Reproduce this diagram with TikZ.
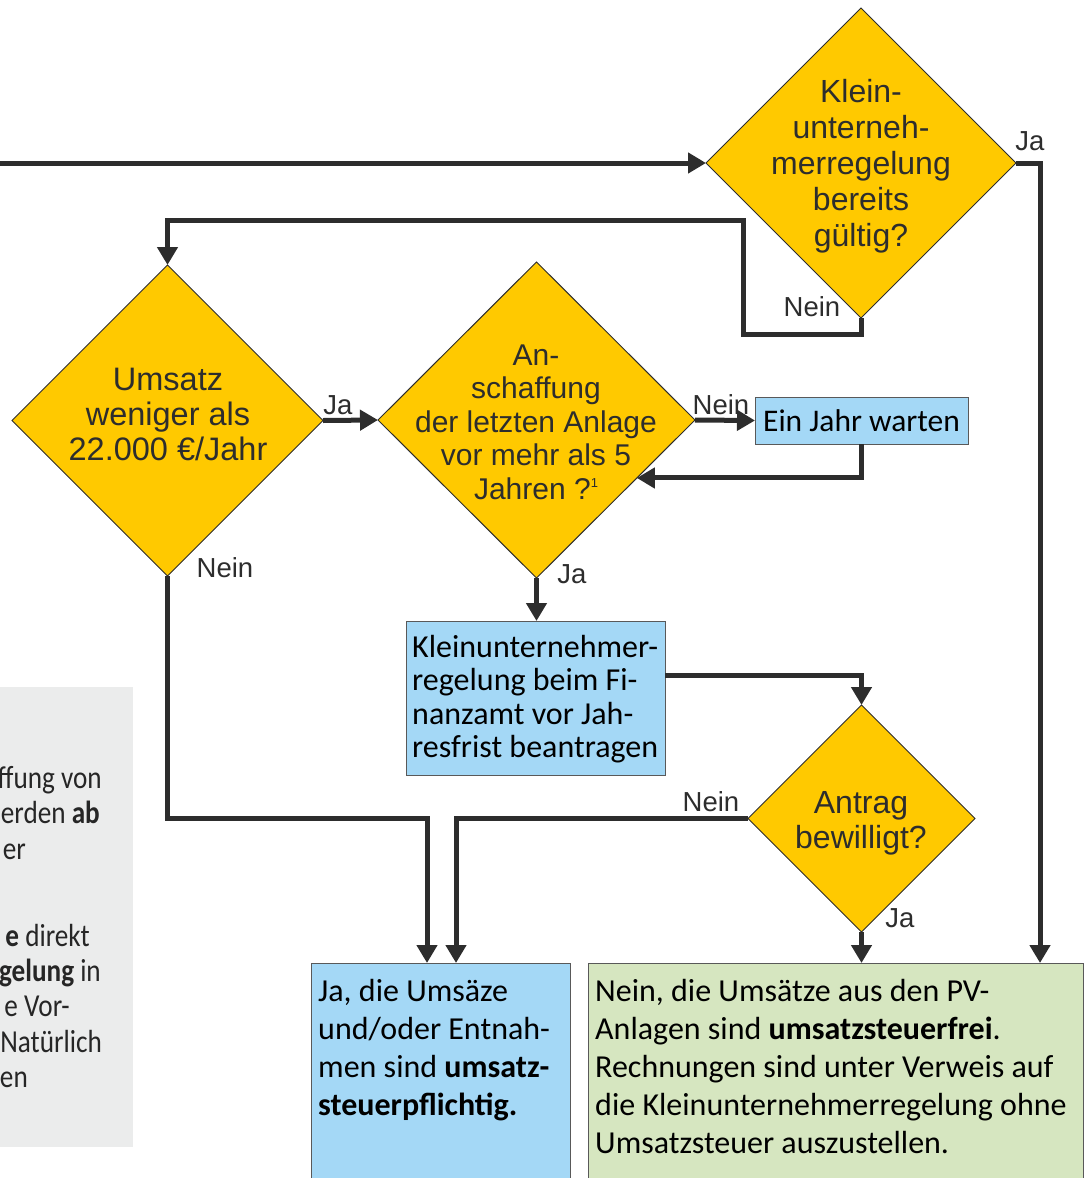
\documentclass[tikz,border=0pt]{standalone}
\usepackage{fontspec}
\setmainfont{Liberation Sans}
\newfontfamily\gill{Carlito}
\newfontfamily\gillc[FakeStretch=0.85]{Carlito}
\usetikzlibrary{shapes.geometric,arrows.meta,calc}
\definecolor{dyellow}{RGB}{255,201,0}
\definecolor{lblue}{RGB}{164,216,246}
\definecolor{lgreen}{RGB}{214,230,192}
\definecolor{lgray}{RGB}{235,236,236}
\definecolor{lineC}{RGB}{45,45,45}
\definecolor{txt}{RGB}{45,45,45}
\begin{document}
\begin{tikzpicture}[x=1pt,y=-1pt,
 dia/.style={diamond, aspect=1, fill=dyellow, draw=lineC, line width=1pt, inner sep=0pt, outer sep=0pt},
 diatext/.style={align=center, text=txt, inner sep=0pt, font=\fontsize{32}{36}\selectfont},
 box/.style={rectangle, draw=black!65, line width=1pt, inner sep=0pt, outer sep=0pt, anchor=north west},
 boxtext/.style={align=left, anchor=north west, inner sep=0pt, font=\gill\fontsize{32}{38}\selectfont},
 gtext/.style={anchor=base east, inner sep=0pt, text=black!85, font=\gillc\fontsize{32}{38}\selectfont},
 lab/.style={font=\fontsize{27.5}{30}\selectfont, text=txt, inner sep=0pt},
 arr/.style={draw=lineC, line width=5pt, -{Triangle[length=18pt,width=20pt]}, line join=miter}
]
\useasboundingbox (0,0) rectangle (1089,1178);
\clip (0,0) rectangle (1089,1178);
% side note box
\fill[lgray] (-10,687) rectangle (133,1147);
\node[gtext] (g1) at (102,788) {ffung von};
\node[gtext] (g2) at (100,823) {erden \textbf{ab}};
\node[gtext] (g3) at (26,859) {er};
\node[gtext] (g4) at (90,946) {\textbf{e} direkt};
\node[gtext] (g5) at (101,981) {\textbf{gelung} in};
\node[gtext] (g6) at (70,1016) {e Vor-};
\node[gtext] (g7) at (102,1052) {Natürlich};
\node[gtext] (g8) at (28,1087) {en};
% diamonds
\node[dia, minimum width=310pt, minimum height=310pt] (d1) at (861,163) {};
\node[diatext] (t1) at (861,166) {Klein-\\unterneh-\\merregelung\\bereits\\gültig?};
\node[dia, minimum width=311pt, minimum height=311pt] (d2) at (167.5,420.5) {};
\node[diatext, font=\fontsize{32.5}{35}\selectfont] (t2) at (168,414) {Umsatz\\weniger als\\22.000 €/Jahr};
\node[dia, minimum width=317pt, minimum height=316pt] (d3) at (536.5,420) {};
\node[diatext, font=\fontsize{30}{33.5}\selectfont] (t3) at (536,422) {An-\\schaffung\\der letzten Anlage\\vor mehr als 5\\Jahren ?\raisebox{12pt}{\fontsize{13}{13}\selectfont 1}};
\node[dia, minimum width=227pt, minimum height=227pt] (d4) at (861.5,818.5) {};
\node[diatext, font=\fontsize{32}{35}\selectfont] (t4) at (861,823) {Antrag\\bewilligt?};
% boxes
\node[box, fill=lblue, minimum width=213pt, minimum height=47pt, font=\gill\fontsize{31.5}{38}\selectfont] (wait) at (755,397) {Ein Jahr warten};
\node[box, fill=lblue, minimum width=259pt, minimum height=154pt] (antr) at (406,621) {};
\node[boxtext, font=\gill\fontsize{32}{33.3}\selectfont] (antrt) at (412,635) {Kleinunternehmer-\\regelung beim Fi-\\nanzamt vor Jah-\\resfrist beantragen};
\node[box, fill=lblue, minimum width=259pt, minimum height=260pt] (yes) at (311,963) {};
\node[boxtext] (yest) at (318,979) {Ja, die Umsäze\\und/oder Entnah-\\men sind \textbf{umsatz-}\\\textbf{steuerpflichtig.}};
\node[box, fill=lgreen, minimum width=495pt, minimum height=260pt] (no) at (588,963) {};
\node[boxtext] (not) at (595,979) {Nein, die Umsätze aus den PV-\\Anlagen sind \textbf{umsatzsteuerfrei}.\\Rechnungen sind unter Verweis auf\\die Kleinunternehmerregelung ohne\\Umsatzsteuer auszustellen.};
% connectors
\coordinate (in) at (-10,163);
\draw[arr] (in) -- (d1.west);
\draw[arr] (d1.east) -| ($(no.north east)+(-43,0)$);
\draw[arr] (d1.south) -- ++(0,16) -| ($(d1.south)+(-118,-98)$) -| (d2.north);
\draw[arr] (d2.east) -- (d3.west);
\draw[arr] (d3.east) -- (wait.west);
\draw[arr] (wait.south) |- ($(d3.east)!0.367!(d3.south)$);
\draw[arr] (d3.south) -- (d3.south |- antr.north);
\draw[arr] ($(antr.north east)+(0,54)$) -| (d4.north);
\draw[arr] (d4.west) -| ($(yes.north west)+(145,0)$);
\draw[arr] (d2.south) |- ($(yes.north west)+(116,-145)$) -- ($(yes.north west)+(116,0)$);
\draw[arr] (d4.south) -- (d4.south |- no.north);
% labels
\node[lab] (l1) at (1030,141) {Ja};
\node[lab] (l2) at (812,307) {Nein};
\node[lab] (l3) at (338,405) {Ja};
\node[lab] (l4) at (721,405) {Nein};
\node[lab] (l5) at (572,574) {Ja};
\node[lab] (l6) at (225,568) {Nein};
\node[lab] (l7) at (711,802) {Nein};
\node[lab] (l8) at (900,918) {Ja};
\end{tikzpicture}
\end{document}
